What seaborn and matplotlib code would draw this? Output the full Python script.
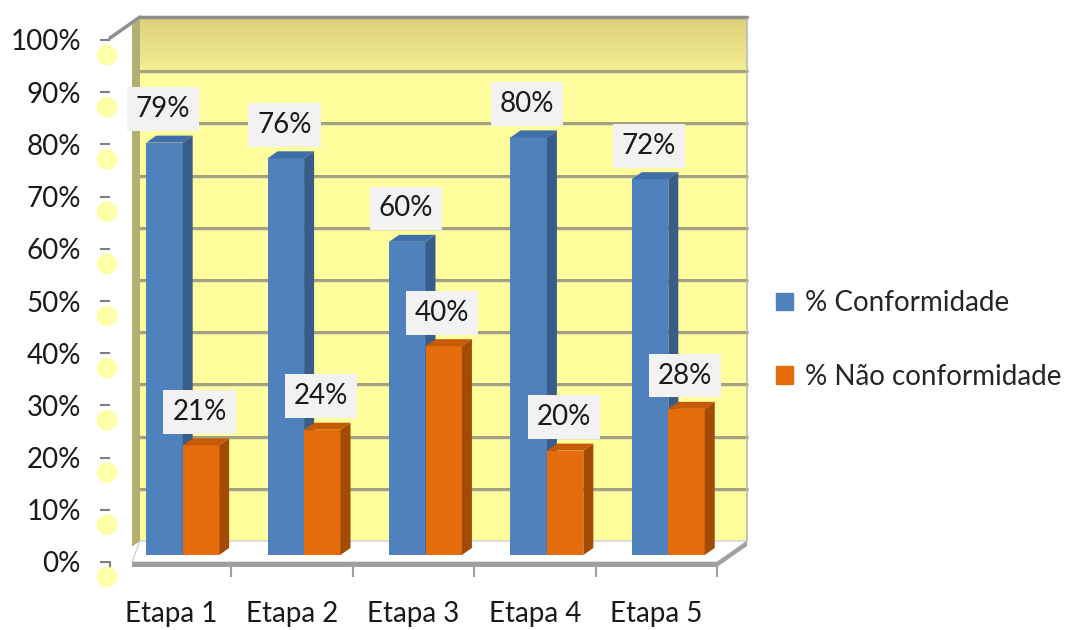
import numpy as np
import pandas as pd
import matplotlib
matplotlib.use('Agg')
import matplotlib.pyplot as plt
import seaborn as sns
from matplotlib.patches import Polygon, Rectangle, Patch
from matplotlib.colors import LinearSegmentedColormap
from matplotlib import transforms

etapas = ['Etapa 1', 'Etapa 2', 'Etapa 3', 'Etapa 4', 'Etapa 5']
conformidade = [0.79, 0.76, 0.60, 0.80, 0.72]
nao_conformidade = [0.21, 0.24, 0.40, 0.20, 0.28]
series = ['% Conformidade', '% Não conformidade']
yticks = [0.0, 0.1, 0.2, 0.3, 0.4, 0.5, 0.6, 0.7, 0.8, 0.9, 1.0]

df = pd.DataFrame({
    'Etapa': etapas * 2,
    'Valor': conformidade + nao_conformidade,
    'Série': [series[0]] * len(etapas) + [series[1]] * len(etapas),
})

# colours: front / side / top of each prism
face = ['#4F81BD', '#E46C0A']
side = ['#385D8A', '#A34A05']
top = ['#3F6EA8', '#C65A07']
wall = '#FFFD9C'
grey = '#A0A0A0'

sns.set_theme(style='white')
plt.rcParams['font.family'] = ['Lato', 'DejaVu Sans']

W, H = 1076, 630
fig = plt.figure(figsize=(W / 100, H / 100), dpi=100)
# front plane of the 3d box: 607 x 522 px
ax = fig.add_axes([110 / W, 68 / H, 607 / W, 522 / H])

sns.barplot(data=df, x='Etapa', y='Valor', hue='Série', palette=face,
            saturation=1, width=0.6, legend=False, ax=ax)
ax.set_xlim(-0.5, 4.5)
ax.set_ylim(0, 1)

sx, sy = 5 / 607, 1 / 522          # data units per pixel
WDX, WDY = 30 * sx, 21 * sy        # depth of back wall
BDX, BDY = 12 * sx, 7 * sy         # bar set back from front plane
DX, DY = 10 * sx, 7 * sy           # bar depth

# back wall
x0, x1 = -0.5 + WDX, 4.5 + WDX
ax.add_patch(Rectangle((x0, WDY), 5, 1, fc=wall, ec='none', zorder=0, clip_on=False))
cmap = LinearSegmentedColormap.from_list('band', ['#DCD17A', '#F4EE94'])
img = ax.imshow(np.linspace(0, 1, 64).reshape(-1, 1), cmap=cmap, aspect='auto',
                extent=(x0, x1, 0.9 + WDY, 1 + WDY), origin='upper', zorder=0.5)
img.set_clip_on(False)
for t in yticks[1:-1]:
    ax.plot([x0, x1], [t + WDY] * 2, color='#A3A17E', lw=2.2, zorder=1, clip_on=False)
    ax.plot([x0, x1], [t + WDY - 2 * sy] * 2, color='#E8E6A8', lw=0.8, zorder=1, clip_on=False)

# left side wall strip
lx = -0.5 + 22 * sx
ldy = 22 / 30 * WDY
ax.add_patch(Polygon([(lx, ldy), (x0, WDY), (x0, 1 + WDY), (lx, 1 + ldy)],
                     closed=True, fc='#B3AE72', ec='none', zorder=1, clip_on=False))

# frame lines
ax.plot([x0, x1], [1 + WDY + 2 * sy] * 2, color='#8E8E8E', lw=2.5, zorder=2, clip_on=False)
ax.plot([-0.5, x0], [1 + 2 * sy, 1 + WDY + 2 * sy], color='#8E8E8E', lw=2.5, zorder=2, clip_on=False)
ax.plot([x1, x1], [WDY, 1 + WDY], color='#B8B8B8', lw=1.2, zorder=2, clip_on=False)

# floor
ax.add_patch(Polygon([(lx, 0), (4.5, 0), (x1, WDY), (x0, WDY)], closed=True,
                     fc='white', ec='#D0D0E0', lw=1, zorder=1.5, clip_on=False))
ax.add_patch(Rectangle((lx, -5 * sy), 4.5 - lx, 5 * sy, fc=grey, ec='none',
                       zorder=1.6, clip_on=False))
ax.add_patch(Polygon([(4.5, 0), (x1, WDY), (x1, WDY - 5 * sy), (4.5, -5 * sy)],
                     closed=True, fc=grey, ec='none', zorder=1.6, clip_on=False))

# 3d bars from the seaborn bars
for i, cont in enumerate(ax.containers):
    for bar in cont:
        bx = bar.get_x() + BDX
        bw = bar.get_width()
        h = bar.get_height()
        bar.set_x(bx)
        bar.set_y(BDY)
        bar.set_zorder(3 + i)
        bar.set_edgecolor('none')
        yb, yt = BDY, BDY + h
        ax.add_patch(Polygon([(bx + bw, yb), (bx + bw, yt), (bx + bw + DX, yt + DY),
                              (bx + bw + DX, yb + DY)], closed=True,
                             fc=side[i], ec='none', zorder=3 + i))
        ax.add_patch(Polygon([(bx, yt), (bx + bw, yt), (bx + bw + DX, yt + DY),
                              (bx + DX, yt + DY)], closed=True,
                             fc=top[i], ec='none', zorder=3 + i))
        ax.annotate(f'{h:.0%}', xy=(bx + bw / 2, yt), xytext=(-1, 24),
                    textcoords='offset points', ha='center', va='center',
                    fontsize=20, color='#1a1a1a', zorder=6,
                    bbox=dict(boxstyle='square,pad=0.32', fc='#F2F2F2', ec='none'))

# axes, ticks
for s in ax.spines.values():
    s.set_visible(False)
ax.set_xlabel('')
ax.set_ylabel('')
ax.set_yticks(yticks)
ax.set_yticklabels([f'{round(t * 100)}%' for t in yticks])
ax.tick_params(axis='y', left=True, length=7, width=1.5, color='#808080',
               pad=14, labelsize=20, labelcolor='#1a1a1a')
ax.plot([-0.5, -0.5], [0, -9 * sy], color='#808080', lw=1.5, clip_on=False, zorder=2)
ax.set_xticks(range(len(etapas)))
ax.set_xticklabels(etapas)
ax.set_xticks(np.arange(0.5, len(etapas), 1), minor=True)
ax.tick_params(axis='x', which='major', length=0, pad=28, labelsize=20,
               labelcolor='#1a1a1a')
ax.tick_params(axis='x', which='minor', bottom=True, length=11, width=1.5,
               color=grey)

# yellow dots beside the y ticks
dot_tr = transforms.offset_copy(ax.get_yaxis_transform(), fig=fig, x=-3, y=-15, units='dots')
ax.scatter([0] * len(yticks), yticks, s=220, color='#FFFFA8', edgecolors='none',
           transform=dot_tr, clip_on=False, zorder=5)

fig.legend(handles=[Patch(color=face[0]), Patch(color=face[1])], labels=series,
           loc='center left', bbox_to_anchor=(762 / W, 1 - 340 / H),
           frameon=False, fontsize=20, handlelength=0.6, handleheight=0.6,
           handletextpad=0.45, labelspacing=1.7, borderpad=0)

fig.savefig('out.png', dpi=100)
